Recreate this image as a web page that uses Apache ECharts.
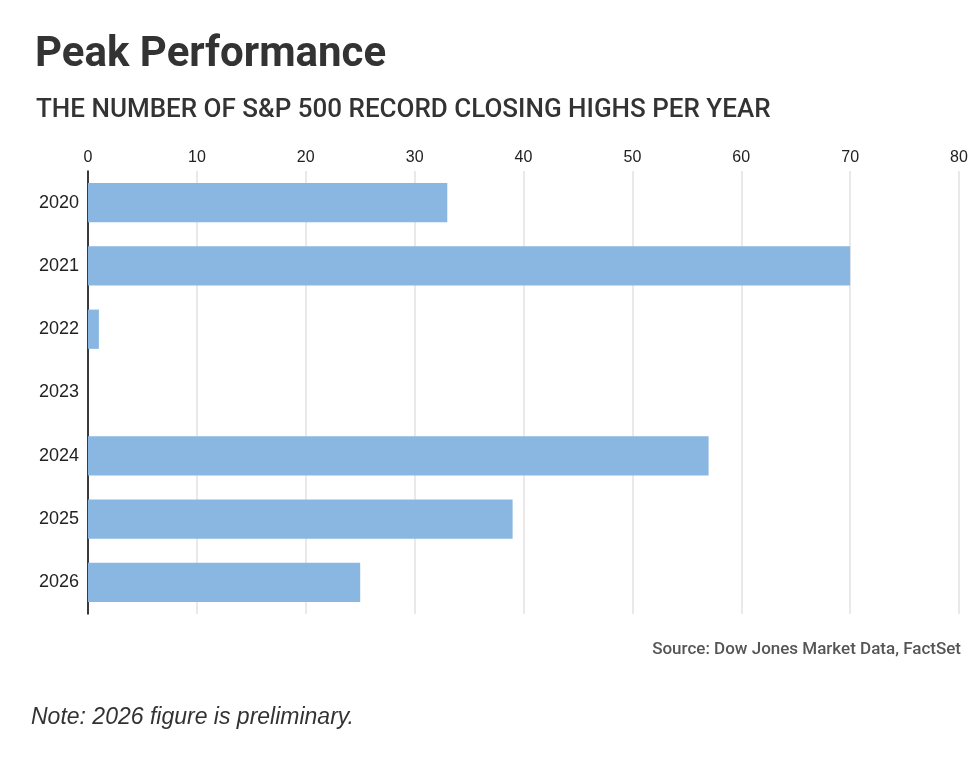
<!DOCTYPE html>
<html lang="en">

<head>
    <meta charset="UTF-8">
    <title>Peak Performance</title>
    <script src="https://cdn.jsdelivr.net/npm/echarts@6/dist/echarts.min.js"></script>
    <style>
        html, body { margin: 0; padding: 0; background: #fff; }
        #chart { width: 976px; height: 760px; }
    </style>
</head>

<body>
    <div id="chart"></div>
    <script>
        // 数据
        var years = ['2020', '2021', '2022', '2023', '2024', '2025', '2026'];
        var recordHighs = [33, 70, 1, 0, 57, 39, 25];
        var tickValues = [0, 10, 20, 30, 40, 50, 60, 70, 80];

        var myChart = echarts.init(document.getElementById('chart'));

        var option = {
            backgroundColor: '#fff',
            animation: false,
            title: [{
                text: 'Peak Performance',
                left: 30,
                top: 29,
                textStyle: {
                    fontFamily: 'Roboto',
                    fontSize: 42,
                    fontWeight: 'bold',
                    color: '#333'
                }
            }, {
                text: 'THE NUMBER OF S&P 500 RECORD CLOSING HIGHS PER YEAR',
                left: 31,
                top: 92,
                textStyle: {
                    fontFamily: 'Roboto',
                    fontSize: 26,
                    fontWeight: 500,
                    color: '#333'
                }
            }],
            graphic: [{
                type: 'text',
                right: 15,
                top: 641,
                style: {
                    text: 'Source: Dow Jones Market Data, FactSet',
                    font: '500 17px Roboto',
                    fill: '#555'
                }
            }, {
                type: 'text',
                left: 31,
                top: 706,
                style: {
                    text: 'Note: 2026 figure is preliminary.',
                    font: 'italic 23px "Liberation Sans", Arial',
                    fill: '#333'
                }
            }],
            grid: {
                left: 88,
                right: 17,
                top: 171,
                bottom: 146,
                containLabel: false
            },
            xAxis: {
                type: 'value',
                position: 'top',
                min: tickValues[0],
                max: tickValues[tickValues.length - 1],
                interval: 10,
                axisLine: { show: false },
                axisTick: { show: false },
                axisLabel: {
                    margin: 5,
                    fontFamily: '"Liberation Sans", Arial',
                    fontSize: 16,
                    color: '#222'
                },
                splitLine: {
                    show: true,
                    lineStyle: { color: '#e2e2e2', width: 1.5 }
                }
            },
            yAxis: {
                type: 'category',
                inverse: true,
                data: years,
                axisLine: {
                    show: true,
                    lineStyle: { color: '#000', width: 1.5 }
                },
                axisTick: { show: false },
                axisLabel: {
                    margin: 9,
                    padding: [10, 0, 0, 0],
                    fontFamily: '"Liberation Sans", Arial',
                    fontSize: 18,
                    color: '#222'
                }
            },
            series: [{
                type: 'bar',
                data: recordHighs,
                barCategoryGap: '38%',
                itemStyle: {
                    color: '#89b7e1'
                }
            }]
        };

        myChart.setOption(option);
    </script>
</body>

</html>
